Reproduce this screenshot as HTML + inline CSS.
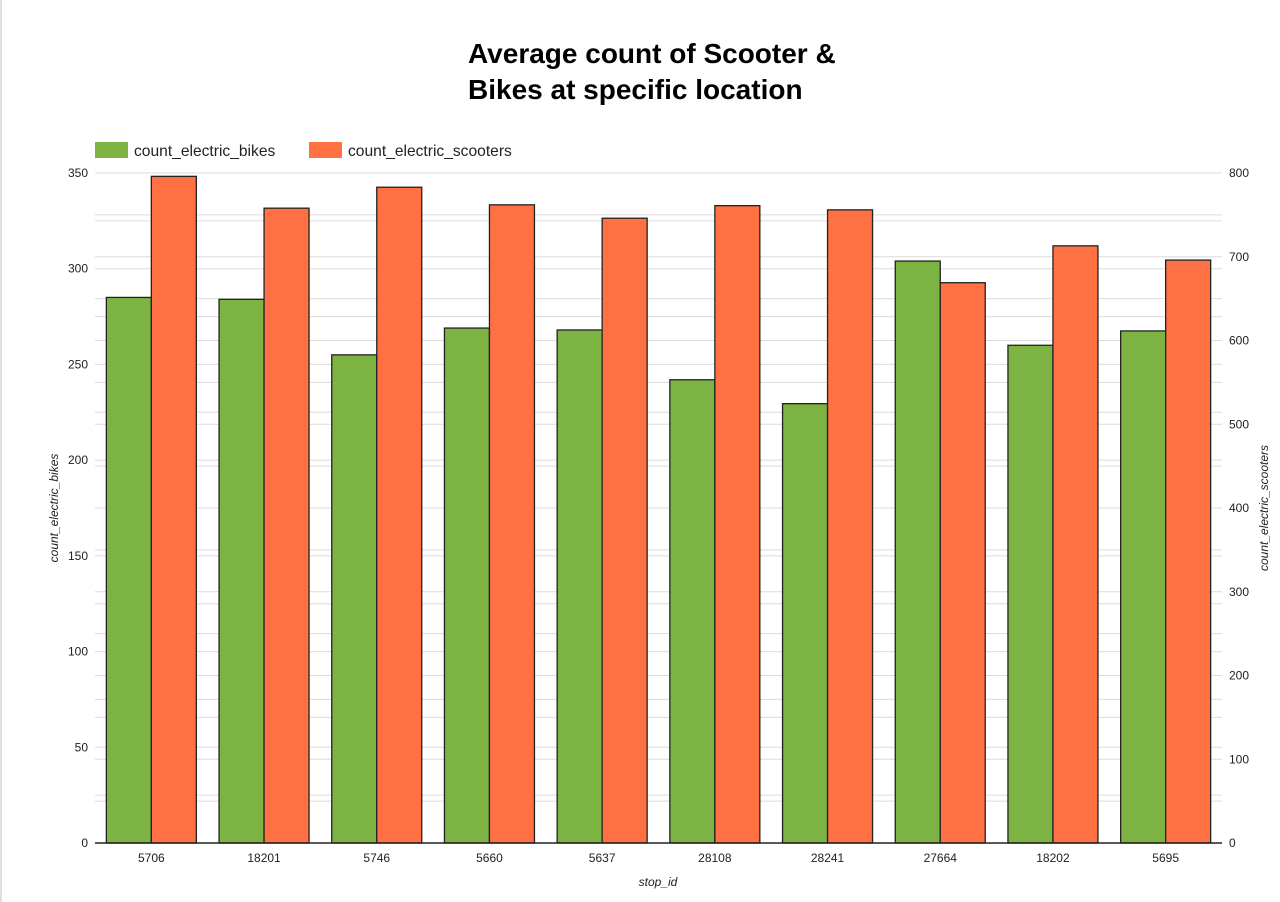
<!DOCTYPE html>
<html><head><meta charset="utf-8"><style>
body{margin:0;background:#fff;font-family:"Liberation Sans",sans-serif}
#wrap{position:relative;width:1280px;height:902px;overflow:hidden}
#edge{position:absolute;left:0;top:0;width:2px;height:902px;background:#e0e0e0}
svg{position:absolute;left:0;top:0}
</style></head><body>
<div id="wrap">
<div id="edge"></div>
<svg id="chart" width="1280" height="902">
<text x="468" y="63" font-size="28" font-weight="bold" fill="#000">Average count of Scooter &amp;</text>
<text x="468" y="99" font-size="28" font-weight="bold" fill="#000">Bikes at specific location</text>
<g>
<rect x="95" y="142" width="33" height="16" fill="#7cb342"/>
<text x="134" y="156" font-size="15.6" fill="#222">count_electric_bikes</text>
<rect x="309" y="142" width="33" height="16" fill="#ff7043"/>
<text x="348" y="156" font-size="15.6" fill="#222">count_electric_scooters</text>
</g>
<g id="grid"></g><g id="bars"></g><g id="axes"></g>
<text transform="translate(58,508) rotate(-90)" text-anchor="middle" font-size="12" font-style="italic" fill="#222">count_electric_bikes</text>
<text transform="translate(1268,508) rotate(-90)" text-anchor="middle" font-size="12" font-style="italic" fill="#222">count_electric_scooters</text>
<text x="658" y="886" text-anchor="middle" font-size="12" font-style="italic" fill="#222">stop_id</text>
</svg>
</div>
<script>
const categories=["5706","18201","5746","5660","5637","28108","28241","27664","18202","5695"];
const bikes=[285,284,255,269,268,242,229.5,304,260,267.5];
const scooters=[796,758,783,762,746,761,756,669,713,696];
const leftTicks=[0,50,100,150,200,250,300,350];
const rightTicks=[0,100,200,300,400,500,600,700,800];
const L=95,R=1222,T=173,B=843,NS="http://www.w3.org/2000/svg";
const yL=v=>B-(v/350)*(B-T), yR=v=>B-(v/800)*(B-T);
const bw=(R-L)/categories.length;
const xC=i=>L+bw*(i+0.5);
function mk(tag,a,p){const e=document.createElementNS(NS,tag);for(const k in a)e.setAttribute(k,a[k]);p.appendChild(e);return e;}
const grid=document.getElementById('grid'),bars=document.getElementById('bars'),axes=document.getElementById('axes');
for(let v=25;v<=350;v+=25){const l=mk('line',{x1:L,x2:R,y1:yL(v),y2:yL(v),stroke:'#dcdcdc','stroke-width':1},grid);

}
for(let v=50;v<=800;v+=50){const l=mk('line',{x1:L,x2:R,y1:yR(v),y2:yR(v),stroke:'#dcdcdc','stroke-width':1},grid);

}
categories.forEach((c,i)=>{
const g=mk('rect',{x:xC(i)-45,y:yL(bikes[i]),width:45,height:B-yL(bikes[i]),fill:'#7cb342',stroke:'#222','stroke-width':1.3},bars);


const o=mk('rect',{x:xC(i),y:yR(scooters[i]),width:45,height:B-yR(scooters[i]),fill:'#ff7043',stroke:'#222','stroke-width':1.3},bars);


const t=mk('text',{x:xC(i),y:862,'text-anchor':'middle','font-size':12,fill:'#222'},axes);t.textContent=c;


});
const base=mk('line',{x1:L,x2:R,y1:B,y2:B,stroke:'#222','stroke-width':1.5},axes);


leftTicks.forEach(v=>{const t=mk('text',{x:88,y:yL(v)+4,'text-anchor':'end','font-size':12,fill:'#222'},axes);t.textContent=v;

});
rightTicks.forEach(v=>{const t=mk('text',{x:1229,y:yR(v)+4,'font-size':12,fill:'#222'},axes);t.textContent=v;

});
</script>
</body></html>
